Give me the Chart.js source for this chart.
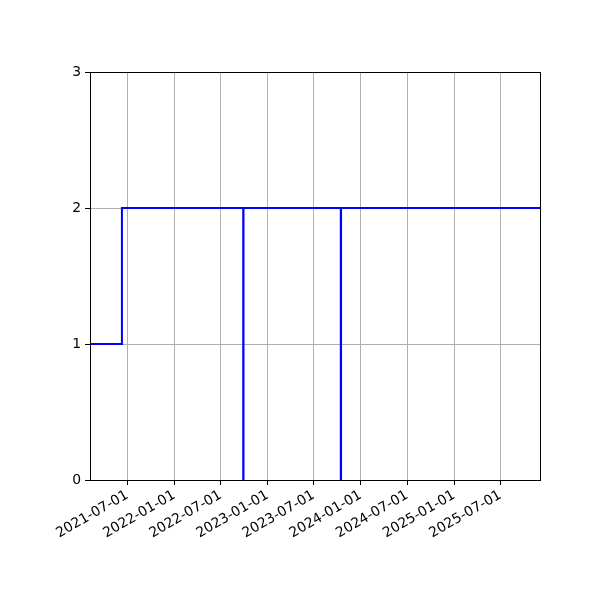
<!DOCTYPE html>
<html>
<head>
<meta charset="utf-8">
<script src="https://cdn.jsdelivr.net/npm/chart.js@4/dist/chart.umd.min.js"></script>
<style>
  html, body { margin: 0; padding: 0; background: #fff; }
  canvas { display: block; }
</style>
</head>
<body>
<canvas id="step-chart" width="600" height="600"></canvas>
<script>
// series (stepped: value holds until next date)
const stepDates = ['2021-02-05', '2021-06-10', '2022-09-28', '2022-09-29', '2023-10-15', '2023-10-16', '2025-12-03'];
const stepValues = [1, 2, 0, 2, 0, 2, 2];

const xTickDates = ['2021-07-01', '2022-01-01', '2022-07-01', '2023-01-01', '2023-07-01', '2024-01-01', '2024-07-01', '2025-01-01', '2025-07-01'];
const yTicks = [0, 1, 2, 3];

const X_MIN = '2021-02-05';
const X_MAX = '2025-12-03';

function toMs(d) {
    return Date.parse(d + 'T00:00:00Z');
}

function fmtDate(ms) {
    const d = new Date(ms);
    const mm = String(d.getUTCMonth() + 1).padStart(2, '0');
    const dd = String(d.getUTCDate()).padStart(2, '0');
    return d.getUTCFullYear() + '-' + mm + '-' + dd;
}

const points = stepDates.map((d, i) => ({ x: toMs(d), y: stepValues[i] }));

// matplotlib-like frame on all four sides
const framePlugin = {
    id: 'frame',
    afterDraw(chart) {
        const { ctx, chartArea: a } = chart;
        ctx.save();
        ctx.strokeStyle = '#000';
        ctx.lineWidth = 1;
        ctx.strokeRect(Math.round(a.left) + 0.5, Math.round(a.top) + 0.5,
            Math.round(a.right - a.left), Math.round(a.bottom - a.top));
        ctx.restore();
    }
};

const tickFont = { family: 'DejaVu Sans', size: 13.9 };

new Chart(document.getElementById('step-chart').getContext('2d'), {
    type: 'line',
    data: {
        datasets: [{
            data: points,
            borderColor: '#0000ff',
            borderWidth: 2,
            stepped: 'before',
            pointRadius: 0,
            fill: false
        }]
    },
    options: {
        responsive: false,
        devicePixelRatio: 1,
        animation: false,
        layout: { padding: { left: 0, top: 72, right: 60, bottom: 0 } },
        plugins: {
            legend: { display: false },
            tooltip: { enabled: false }
        },
        scales: {
            x: {
                type: 'linear',
                min: toMs(X_MIN),
                max: toMs(X_MAX),
                afterBuildTicks(scale) {
                    scale.ticks = xTickDates.map(d => ({ value: toMs(d) }));
                },
                afterFit(scale) { scale.height = 120; },
                border: { display: false },
                grid: {
                    color: '#b0b0b0',
                    lineWidth: 1,
                    tickColor: '#000',
                    tickLength: 5
                },
                ticks: {
                    autoSkip: false,
                    minRotation: 30,
                    maxRotation: 30,
                    padding: 2,
                    color: '#000',
                    font: tickFont,
                    callback: value => fmtDate(value)
                }
            },
            y: {
                type: 'linear',
                min: 0,
                max: 3,
                afterBuildTicks(scale) {
                    scale.ticks = yTicks.map(v => ({ value: v }));
                },
                afterFit(scale) { scale.width = 90; },
                border: { display: false },
                grid: {
                    color: '#b0b0b0',
                    lineWidth: 1,
                    tickColor: '#000',
                    tickLength: 5
                },
                ticks: {
                    padding: 4,
                    color: '#000',
                    font: tickFont,
                    callback: value => String(value)
                }
            }
        }
    },
    plugins: [framePlugin]
});
</script>
</body>
</html>
